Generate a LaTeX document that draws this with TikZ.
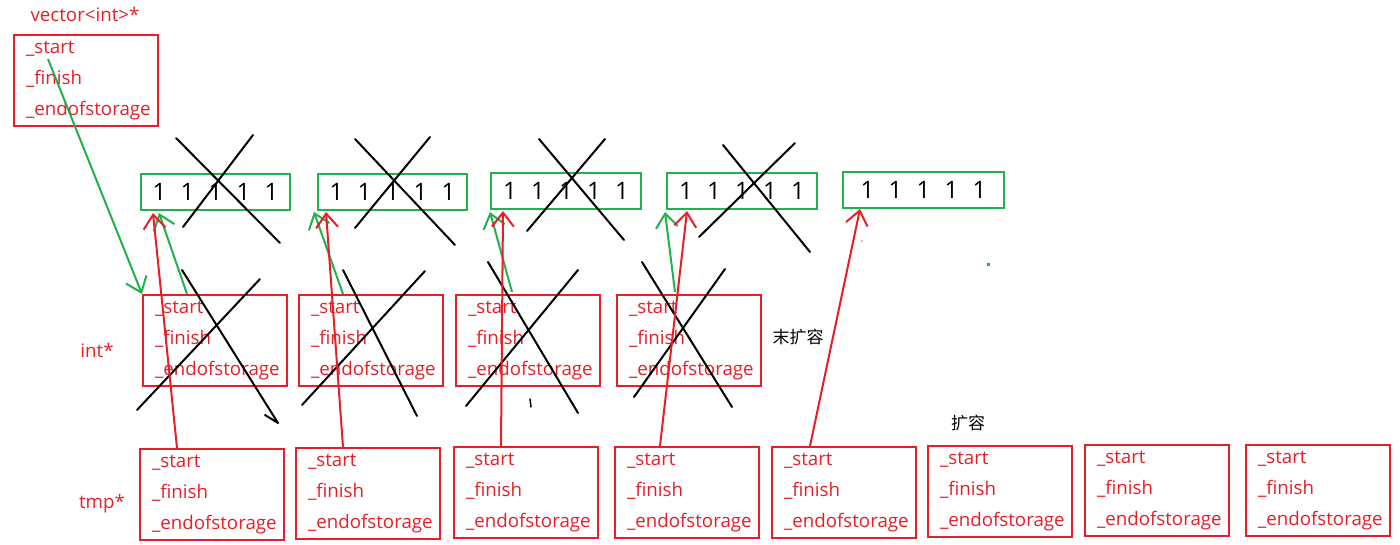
\documentclass[tikz,border=0pt]{standalone}
\usepackage{fontspec}
\setmainfont{Open Sans}
\newfontfamily\cjk{Noto Sans CJK SC}
\usetikzlibrary{arrows.meta}
\definecolor{pred}{RGB}{230,30,40}
\definecolor{pgreen}{RGB}{34,177,76}
\newcommand{\fields}{\_start\\\_finish\\\_endofstorage}
\newcommand{\gap}{\hspace{14.3pt}}
\newcommand{\ones}{1\gap 1\gap 1\gap 1\gap 1}

\begin{document}
\begin{tikzpicture}[x=1pt, y=-1pt,
  ptr/.style={draw=pred, line width=2pt, text=pred, font=\fontsize{18.7}{31}\selectfont,
    align=left, text width=120pt, inner xsep=12pt, inner ysep=0pt, minimum height=91pt, anchor=north west},
  arr/.style={draw=pgreen, line width=2pt, inner sep=0pt, minimum height=36pt, anchor=north west,
    font=\fontsize{24}{28}\selectfont},
  lbl/.style={text=pred, font=\fontsize{18.7}{22}\selectfont},
  note/.style={font=\cjk\fontsize{17}{20}\selectfont},
  cross/.style={line width=2pt, line cap=round, line join=round},
  garrow/.style={-{Straight Barb[length=14pt,width=22pt]}, draw=pgreen, line width=2pt},
  rarrow/.style={-{Straight Barb[length=14pt,width=22pt]}, draw=pred, line width=2pt},
]
  \useasboundingbox (0,0) rectangle (1400,545);

  % labels
  \node[lbl] (vlbl) at (85,14) {vector<int>*};
  \node[lbl] (intlbl) at (97,350) {int*};
  \node[lbl] (tmplbl) at (102,504) {tmp*};
  \node[note] (nokr) at (798,337) {末扩容};
  \node[note] (kr) at (968,423) {扩容};

  % vector object
  \node[ptr] (vec) at (13,34) {\fields};

  % arrays
  \node[arr, minimum width=149pt] (a1) at (140,173) {\ones};
  \node[arr, minimum width=149pt] (a2) at (317,173) {\ones};
  \node[arr, minimum width=150pt] (a3) at (490,172) {\ones};
  \node[arr, minimum width=150pt] (a4) at (666,172) {\ones};
  \node[arr, minimum width=161pt] (a5) at (842,171) {\ones};

  % int* row
  \node[ptr] (p1) at (142,294) {\fields};
  \node[ptr] (p2) at (298,294) {\fields};
  \node[ptr] (p3) at (455,294) {\fields};
  \node[ptr] (p4) at (616,294) {\fields};

  % tmp* row
  \node[ptr] (t1) at (139,448) {\fields};
  \node[ptr] (t2) at (295,447) {\fields};
  \node[ptr] (t3) at (453,446) {\fields};
  \node[ptr] (t4) at (614,446) {\fields};
  \node[ptr] (t5) at (771,446) {\fields};
  \node[ptr] (t6) at (927,445) {\fields};
  \node[ptr] (t7) at (1084,444) {\fields};
  \node[ptr] (t8) at (1245,444) {\fields};

  % crossed out
  \draw[cross] (176,138) -- (280,243);  \draw[cross] (253,135) -- (183,227);
  \draw[cross] (355,139) -- (455,245);  \draw[cross] (430,137) -- (355,228);
  \draw[cross] (539,139) -- (624,240);  \draw[cross] (605,139) -- (527,231);
  \draw[cross] (723,145) -- (810,252);  \draw[cross] (795,143) -- (699,237);
  \draw[cross] (182,270) -- (278,423) -- (265,415);  \draw[cross] (260,279) -- (137,410);
  \draw[cross] (343,270) -- (417,416);  \draw[cross] (425,271) -- (302,405);
  \draw[cross] (488,262) -- (578,413);  \draw[cross] (578,270) -- (466,406);
  \draw[cross] (642,262) -- (732,407);  \draw[cross] (725,269) -- (634,397);
  \draw[cross, line width=1.5pt] (530,399) -- (531,407);
  \fill[gray] (862,241) circle (0.8pt);
  \fill[pgreen] (986.5,263.5) rectangle (989.5,266.5);

  % green pointers
  \draw[garrow] ([shift={(35,25)}]vec.north west) -- (p1.north west);
  \draw[garrow] ([shift={(45,0)}]p1.north west) -- ([shift={(19,2)}]a1.south west);
  \draw[garrow] ([shift={(45,0)}]p2.north west) -- ([shift={(-3,1)}]a2.south west);
  \draw[garrow] ([shift={(57,-2)}]p3.north west) -- ([shift={(0,2)}]a3.south west);
  \draw[garrow] ([shift={(59,-2)}]p4.north west) -- ([shift={(-1,2)}]a4.south west);

  % red pointers
  \draw[rarrow] ([shift={(38,0)}]t1.north west) -- ([shift={(13,2)}]a1.south west);
  \draw[rarrow] ([shift={(48,0)}]t2.north west) -- ([shift={(9,1)}]a2.south west);
  \draw[rarrow] ([shift={(48,0)}]t3.north west) -- ([shift={(13,1)}]a3.south west);
  \draw[rarrow] ([shift={(46,0)}]t4.north west) -- ([shift={(21,1)}]a4.south west);
  \draw[rarrow] ([shift={(39,0)}]t5.north west) -- ([shift={(18,0)}]a5.south west);
\end{tikzpicture}
\end{document}
